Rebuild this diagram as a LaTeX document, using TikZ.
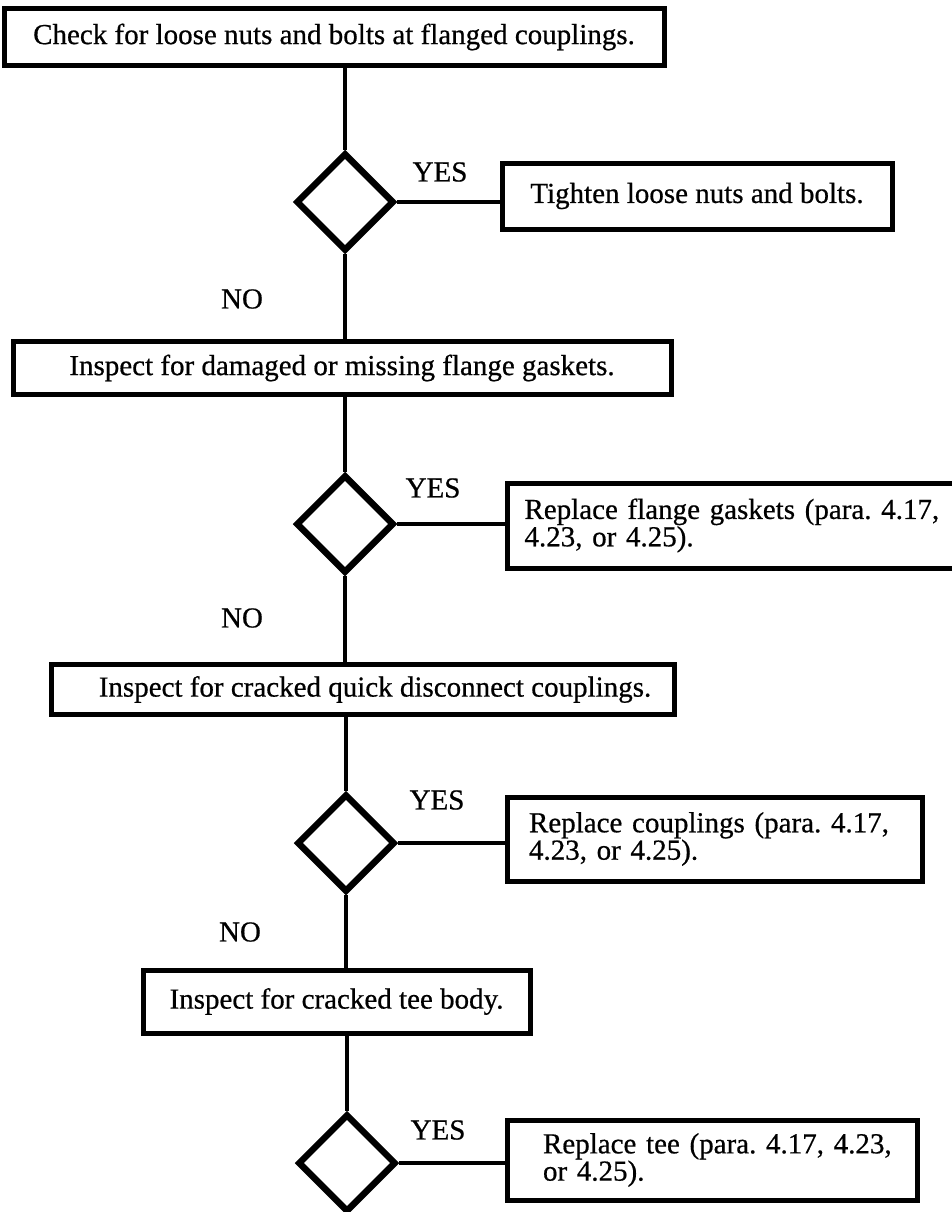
\documentclass[tikz,border=0pt]{standalone}
\usepackage{fontspec}
\setmainfont{Liberation Serif}[FakeBold=0.6]
\usetikzlibrary{shapes.geometric}
\begin{document}
\frenchspacing
\begin{tikzpicture}[x=1pt,y=-1pt,
  every node/.style={font=\fontsize{29}{21}\selectfont},
  boxnode/.style={draw,line width=5pt,rectangle,inner sep=0pt,align=center},
  leftbox/.style={draw,line width=5pt,rectangle,inner sep=0pt,align=left},
  decnode/.style={draw,line width=6.5pt,diamond,minimum width=98pt,minimum height=98pt,inner sep=0pt},
  lbl/.style={inner sep=0pt},
  conn/.style={line width=4.5pt}]
\useasboundingbox (0,0) rectangle (951,1212);
% boxes
\node[boxnode,minimum width=660pt,minimum height=57pt] (b1) at (334,37) {Check for loose nuts and bolts at flanged couplings.};
\node[decnode] (d1) at (345,202) {};
\node[boxnode,minimum width=390pt,minimum height=66pt] (t1) at (697,196) {Tighten loose nuts and bolts.};
\node[lbl] (y1) at (440,172) {YES};
\node[lbl] (n1) at (242,299) {NO};
\node[boxnode,minimum width=658pt,minimum height=53pt] (b2) at (342,368) {Inspect for damaged or missing flange gaskets.};
\node[decnode] (d2) at (345,524) {};
\node[lbl] (y2) at (433,488) {YES};
\node[leftbox,minimum width=480pt,minimum height=85pt,anchor=west,text width=470pt] (t2) at (505,525.5) {\hspace*{12pt}Replace flange gaskets (para. 4.17,\\\hspace*{12pt}4.23, or 4.25).};
\node[lbl] (n2) at (242,618) {NO};
\node[boxnode,minimum width=623pt,minimum height=50pt] (b3) at (363,689.5) {\hspace*{24pt}Inspect for cracked quick disconnect couplings.};
\node[decnode] (d3) at (346,843) {};
\node[lbl] (y3) at (437,800) {YES};
\node[leftbox,minimum width=415pt,minimum height=84pt,anchor=west,text width=400pt] (t3) at (505,839) {\hspace*{14pt}Replace couplings (para. 4.17,\\\hspace*{14pt}4.23, or 4.25).};
\node[lbl] (n3) at (240,932) {NO};
\node[boxnode,minimum width=387pt,minimum height=63pt] (b4) at (336.5,1001.5) {Inspect for cracked tee body.};
\node[decnode] (d4) at (347,1163) {};
\node[lbl] (y4) at (438,1130) {YES};
\node[leftbox,minimum width=410pt,minimum height=80pt,anchor=west,text width=395pt] (t4) at (505,1160) {\hspace*{28pt}Replace tee (para. 4.17, 4.23,\\\hspace*{28pt}or 4.25).};
% connectors
\draw[conn] (d1.north |- b1.south) -- (d1.north);
\draw[conn] (d1.east) -- (d1.east -| t1.west);
\draw[conn] (d1.south) -- (d1.south |- b2.north);
\draw[conn] (d2.north |- b2.south) -- (d2.north);
\draw[conn] (d2.east) -- (d2.east -| t2.west);
\draw[conn] (d2.south) -- (d2.south |- b3.north);
\draw[conn] (d3.north |- b3.south) -- (d3.north);
\draw[conn] (d3.east) -- (d3.east -| t3.west);
\draw[conn] (d3.south) -- (d3.south |- b4.north);
\draw[conn] (d4.north |- b4.south) -- (d4.north);
\draw[conn] (d4.east) -- (d4.east -| t4.west);
\end{tikzpicture}
\end{document}
